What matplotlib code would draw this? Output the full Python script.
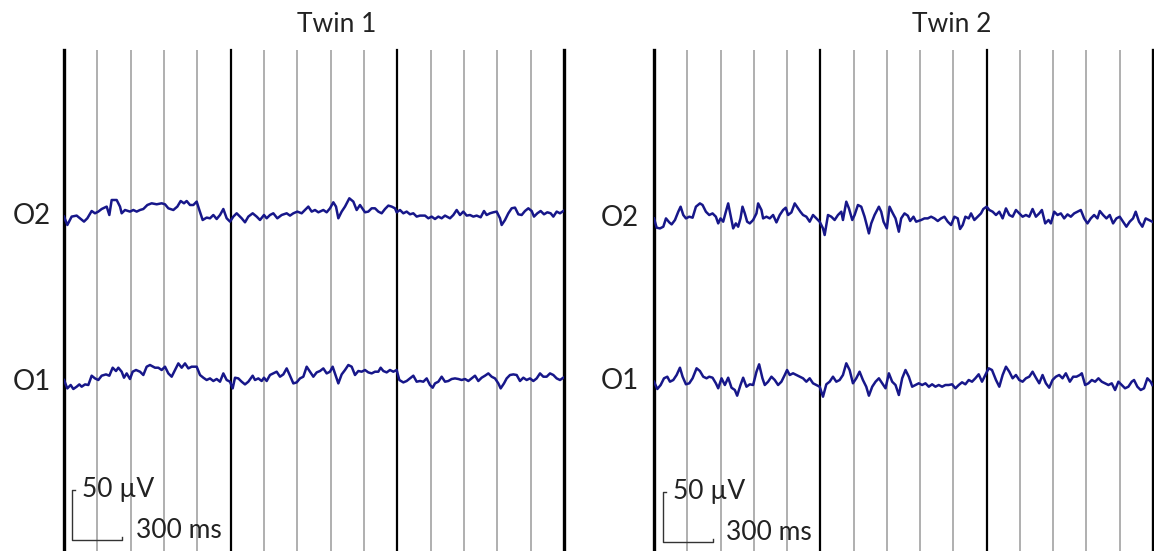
import matplotlib.pyplot as plt
import numpy as np

plt.rcParams['font.family'] = ['Lato', 'DejaVu Sans']

# Datos: tiempo en ms, amplitud en uV (positivo hacia arriba)

twin1_o2_t = [0, 20, 46, 76, 96, 120, 140, 166, 186, 206, 226, 256, 272, 286, 316, 336, 346, 366, 396, 416,
              436, 456, 476, 500, 526, 556, 586, 606, 626, 656, 680, 700, 720, 736, 756, 776, 796, 812, 832, 856,
              876, 896, 916, 936, 956, 976, 996, 1016, 1036, 1066, 1086, 1106, 1132, 1156, 1176, 1200, 1216, 1236, 1256, 1280,
              1306, 1336, 1356, 1376, 1400, 1426, 1446, 1466, 1486, 1506, 1526, 1556, 1576, 1596, 1616, 1632, 1646, 1666, 1686, 1712,
              1736, 1756, 1776, 1806, 1826, 1846, 1866, 1886, 1906, 1926, 1946, 1966, 1986, 1996, 2016, 2036, 2056, 2076, 2096, 2116,
              2136, 2166, 2186, 2206, 2226, 2246, 2266, 2286, 2316, 2336, 2356, 2376, 2396, 2416, 2436, 2456, 2476, 2500, 2520, 2536,
              2556, 2576, 2596, 2616, 2626, 2646, 2666, 2686, 2706, 2726, 2746, 2766, 2786, 2806, 2820, 2840, 2860, 2880, 2900, 2920,
              2936, 2956, 2976, 2996]
twin1_o2_v = [-3.3, -11.7, -3.3, -2.3, -5, -8.3, -5, 2.3, 0, 1.7, 4.3, 6.7, -1.7, 13.3, 13.3, 6.7, 0, 3.3, 1.7, 3.3,
              1.7, 3.3, 4.3, 8.3, 10, 9, 10, 9, 5, 3.3, 6.7, 12.3, 10, 12.3, 8.3, 8.3, 11.7, 3.3, -6.7, -4.3,
              -5, -1.7, -5.7, -1.7, 4.3, -5, -8.3, -3.3, 0, -5, -9, -3.3, 0, -3.3, -6.7, -1.7, -5, -1.7, 0, -5,
              -1.7, 0, -2.3, 0, 1.7, 0, 3.3, 6.7, 1.7, 3.3, 1, 3.3, 1, 5, 11, 6.7, -5, 1.7, 6.7, 15,
              11.7, 3.3, 8.3, 1, 1.7, 5, 5, 1.7, 0, 4.3, 7.7, 6.7, 5, 1, 3.3, 0, 1.7, -1, 0, -3.3,
              -2.3, -2.3, -5, -3.3, -5.7, -3.3, -5, -2.3, -5, -1.7, 3.3, -1.7, 1.7, -2.3, -1.7, -3.3, -2.3, -4, 2.3, -1.7,
              0, 1, 1.7, -5, -11.7, -6.7, 0, 5, 5.7, -1, -1.7, 2.3, 5, 2.3, -3.3, 0, 2.3, -1, 1, 0,
              -3.3, 1.7, 0, 2.3]

twin1_o1_t = [0, 20, 40, 56, 76, 92, 106, 126, 146, 166, 186, 206, 226, 252, 272, 292, 312, 326, 346, 360,
              376, 396, 412, 432, 456, 476, 496, 516, 546, 566, 586, 606, 626, 646, 666, 686, 706, 726, 746, 766,
              796, 816, 836, 856, 876, 896, 916, 936, 956, 976, 996, 1012, 1026, 1046, 1066, 1086, 1106, 1132, 1146, 1166,
              1186, 1200, 1216, 1236, 1256, 1276, 1296, 1316, 1336, 1356, 1376, 1396, 1416, 1436, 1456, 1476, 1496, 1516, 1536, 1556,
              1576, 1596, 1612, 1632, 1646, 1666, 1686, 1706, 1726, 1746, 1766, 1786, 1806, 1826, 1846, 1866, 1886, 1900, 1916, 1936,
              1956, 1976, 1996, 2012, 2036, 2056, 2076, 2096, 2116, 2136, 2156, 2176, 2196, 2212, 2226, 2246, 2266, 2286, 2306, 2326,
              2346, 2366, 2386, 2406, 2426, 2446, 2466, 2486, 2506, 2526, 2546, 2566, 2586, 2606, 2620, 2640, 2656, 2676, 2696, 2716,
              2736, 2756, 2776, 2796, 2816, 2836, 2856, 2876, 2896, 2916, 2936, 2956, 2976, 2996]
twin1_o1_v = [-3.3, -11.7, -8.3, -12.3, -10, -7.7, -10, -7.7, -8.3, 1, -1.7, -3.3, 1, 2.3, 1, 9, 5.7, 9, 5, -1,
              3.3, -2.3, 5, 6.7, 5, 1.7, 10, 11.7, 9, 9, 6.7, 10, 3.3, 0, 6.7, 13.3, 9, 13.3, 8.3, 10,
              10, 1.7, -1, -3.3, -1.7, -4.3, -2.3, -5, 3.3, -3.3, -5, -11.7, -1, -1.7, -5, -7.7, -5, 1, -3.3, -1.7,
              -4.3, -1, -4.3, 1.7, 3.3, 5, 0, 2.3, 8.3, 1, -6.7, -5.7, -1.7, 0, 10, 5, 0, 4.3, 5.7, 8.3,
              3.3, 5, 10, 0, -6.7, 2.3, 6.7, 11.7, 10, 1.7, 5.7, 5, 6.7, 4.3, 3.3, 5, 5, 9, 5.7, 4.3,
              6.7, 5, 6.7, -3.3, -5.7, -4.3, -1.7, 1, -5, -4.3, -5, -1.7, -8.3, -11, -6.7, -5, 0, -5, -4.3, -2.3,
              -1.7, -2.3, -3.3, -2.3, -4.3, -1.7, 1, -4.3, -1, 1, 3.3, 0, -1.7, -6.7, -11.7, -6.7, -1.7, 1.7, 2.3, 1.7,
              -4.3, -1, -3.3, -1.7, -4.3, -1.7, 3.3, 0, 0, 3.3, 1.7, -1.7, -3.3, -1]

twin2_o2_t = [0, 16, 36, 56, 72, 92, 106, 126, 146, 160, 176, 192, 212, 232, 252, 276, 292, 312, 332, 352,
              372, 386, 400, 416, 432, 446, 460, 476, 492, 506, 520, 532, 546, 560, 576, 596, 616, 626, 646, 656,
              676, 696, 716, 736, 756, 776, 792, 806, 826, 846, 866, 880, 896, 916, 936, 956, 976, 996, 1016, 1026,
              1046, 1066, 1086, 1106, 1126, 1136, 1156, 1172, 1192, 1206, 1226, 1246, 1266, 1292, 1306, 1326, 1352, 1366, 1380, 1400,
              1416, 1436, 1452, 1472, 1486, 1506, 1526, 1540, 1560, 1576, 1606, 1626, 1646, 1666, 1686, 1706, 1726, 1746, 1766, 1786,
              1806, 1826, 1840, 1856, 1872, 1892, 1906, 1926, 1946, 1966, 1980, 2000, 2016, 2036, 2056, 2076, 2096, 2116, 2136, 2156,
              2176, 2196, 2216, 2236, 2256, 2276, 2296, 2316, 2332, 2352, 2372, 2386, 2406, 2426, 2446, 2466, 2486, 2506, 2526, 2546,
              2566, 2586, 2606, 2626, 2646, 2666, 2680, 2700, 2720, 2740, 2760, 2780, 2800, 2820, 2840, 2860, 2880, 2896, 2916, 2936,
              2956, 2976, 2996]
twin2_o2_v = [-1.7, -11, -11.7, -10, -1.7, -5.7, -7.7, -3.3, 5, 10, 1.7, -1.7, 0, -1, 10, 13.3, 11.7, 5, 1.7, 3.3,
              0, -6.7, -1.7, -5, 5, 13.3, 1.7, -11.7, -6.7, -10, -1.7, 10, 3.3, -5, -6.7, -3.3, 3.3, 13.3, 6.7, -1.7,
              0, -1.7, 1.7, -5.7, 1.7, 6.7, 9, 1.7, 4.3, 13.3, 8.3, 5, 1.7, 0, -5, 1.7, -1.7, -5, -11.7, -18.3,
              1.7, 0, -3.3, 1.7, 5, -3.3, 15, 8.3, -3.3, 1.7, 11.7, 10, 0, -16.7, -6.7, 1.7, 10, 5, -5, -11.7,
              10, 3.3, -1.7, -15, -1.7, 3.3, 1, -4.3, 0, -5, -3.3, -1.7, -1.7, 0, -1.7, -4.3, -1.7, 0, -5, -8.3,
              0, -1.7, -12.3, -8.3, 0, -1.7, 3.3, -3.3, 0, 3.3, 7.7, 10, 6.7, 5, 1.7, 5, -1.7, 8.3, 1.7, 0,
              6.7, 3.3, 0, 1.7, 0, 7.7, 0, 3.3, 6.7, -6.7, -3.3, -6.7, 5, 1.7, 3.3, -1.7, 2.3, 0, 3.3, 5,
              6.7, -1.7, -6.7, -1.7, 1.7, -1.7, 5.7, 1.7, -1.7, 1.7, -6.7, -1.7, 0, -5, -10, -5, -1.7, 5, -5, -10,
              -1.7, -3.3, -5]

twin2_o1_t = [0, 20, 40, 60, 80, 96, 116, 136, 156, 172, 192, 212, 232, 256, 276, 296, 316, 332, 352, 372,
              386, 406, 426, 446, 466, 486, 500, 520, 536, 556, 576, 596, 616, 632, 652, 666, 686, 706, 726, 746,
              766, 786, 800, 816, 836, 856, 876, 896, 916, 936, 956, 976, 996, 1016, 1036, 1056, 1076, 1096, 1116, 1136,
              1156, 1176, 1196, 1216, 1236, 1256, 1276, 1292, 1312, 1332, 1352, 1372, 1392, 1412, 1432, 1452, 1472, 1492, 1512, 1532,
              1552, 1572, 1592, 1612, 1632, 1652, 1672, 1692, 1712, 1732, 1752, 1772, 1792, 1812, 1832, 1852, 1872, 1892, 1912, 1932,
              1952, 1972, 1992, 2012, 2032, 2056, 2076, 2096, 2116, 2136, 2156, 2176, 2196, 2216, 2236, 2256, 2276, 2296, 2316, 2336,
              2356, 2376, 2396, 2416, 2436, 2456, 2476, 2500, 2520, 2540, 2560, 2572, 2592, 2612, 2632, 2652, 2672, 2692, 2712, 2732,
              2752, 2772, 2792, 2812, 2832, 2852, 2872, 2886, 2906, 2926, 2946, 2966, 2986, 2996]
twin2_o1_v = [-1.7, -9, -5, 1.7, 3.3, -1.7, 0, 5, 12.3, 3.3, -4.3, -3.3, 1.7, 11.7, 9, 3.3, 1.7, 3.3, 2.3, -3.3,
              -8.3, 1.7, -5, 2.3, -7.7, -10, -15.7, -5, 2.3, -6.7, -4.3, -5, 8.3, 15.7, 1.7, -5, -1.7, 3.3, 0, -5,
              -1.7, 5, 10, 5, 6.7, 5, 3.3, 1.7, -1.7, 1.7, -3.3, -5, -6.7, -16.7, -4.3, -1.7, 3.3, -1.7, 0, 5,
              16.7, 10, -3.3, 1.7, 8.3, 0, -6.7, -15.7, -6.7, -1.7, 1.7, -3.3, -8.3, 6.7, -1.7, -5, -15, 1.7, 10, 3.3,
              -6.7, -5, -3.3, -5, -3.3, -6.7, -4.3, -6.7, -5, -6.7, -5, -5, -4.3, -8.3, -5, -2.3, -4.3, 0, -1.7, 1.7,
              5.7, -1.7, 5, 11.7, 10, 0, -6.7, 5, 13.3, 8.3, 1.7, 5, 0, -1.7, 1.7, 3.3, 8.3, 2.3, -3.3, 5,
              -3.3, -7.7, 0, 3.3, 5, 1.7, 6.7, -1.7, 3.3, 3.3, 5, 6.7, -5, -3.3, 0, -1.7, 1.7, -1.7, -3.3, -5,
              -3.3, -10, -1.7, -5, -8.3, -6.7, -1.7, 0, -6.7, -10, -8.3, 1.7, -1.7, -5]

titles = ['Twin 1', 'Twin 2']
channels = ['O2', 'O1']

# Crear la figura (1154 x 551 px)
W, H = 1154, 551
fig = plt.figure(figsize=(W / 100, H / 100), dpi=100)


def px(x, y):
    return x / W, 1 - y / H


trace_color = '#17178a'
text_color = '#222222'

panels = [
    dict(left=64, width=500, offsets=(-163.3, -326.7), title_x=337, lab_x=32, lab_y=(216, 382),
         bar=(48, -490), ms_dx=384, ms_dy=10,
         data=((twin1_o2_t, twin1_o2_v), (twin1_o1_t, twin1_o1_v))),
    dict(left=654, width=499, offsets=(-166.7, -330), title_x=952, lab_x=620, lab_y=(218, 381),
         bar=(54, -492), ms_dx=380, ms_dy=9,
         data=((twin2_o2_t, twin2_o2_v), (twin2_o1_t, twin2_o1_v))),
]

for i, p in enumerate(panels):
    ax = fig.add_axes([p['left'] / W, 0, p['width'] / W, 501 / H])
    ax.set_xlim(0, 3000)
    ax.set_ylim(-501, 0)
    ax.axis('off')

    # Rejilla vertical: cada 200 ms, gruesa cada segundo
    for t in range(0, 3001, 200):
        if t % 1000 == 0:
            lw = 2.4 if t in (0, 3000) else 1.6
            ax.axvline(t, color='black', lw=lw, clip_on=False, zorder=1)
        else:
            ax.axvline(t, color='#9a9a9a', lw=1.1, zorder=1)

    # Trazas EEG
    for (t, v), off in zip(p['data'], p['offsets']):
        ax.plot(t, np.array(v) + off, color=trace_color, lw=1.8, zorder=3,
                solid_joinstyle='round')

    # Barra de escala: 300 ms x 50 uV
    bx, by = p['bar']
    ax.plot([bx + 20, bx, bx, bx + 300, bx + 300], [by + 50, by + 50, by, by, by + 3],
            color='#333333', lw=1.0, zorder=4)
    ax.text(bx + 62, by + 50, '50 µV', fontsize=19, color=text_color, va='center', ha='left')
    ax.text(bx + p['ms_dx'], by + p['ms_dy'], '300 ms', fontsize=19, color=text_color,
            va='center', ha='left')

    # Titulo y etiquetas de canal
    fig.text(*px(p['title_x'], 25), titles[i], fontsize=19, color=text_color, ha='center', va='center')
    for name, ly in zip(channels, p['lab_y']):
        fig.text(*px(p['lab_x'], ly), name, fontsize=20, color=text_color, ha='center', va='center')

fig.savefig('out.png', dpi=100)
